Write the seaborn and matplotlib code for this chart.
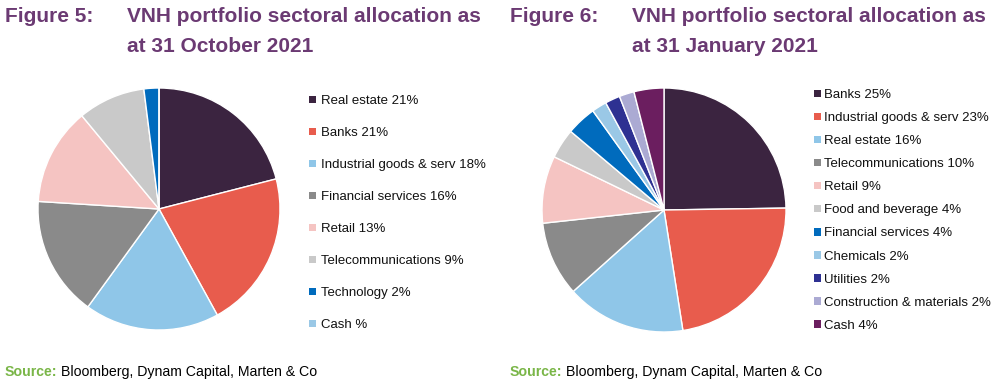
""" VNH portfolio sectoral allocation pies """

import matplotlib
matplotlib.use("Agg")
import matplotlib.pyplot as plt
from matplotlib.patches import Patch
import seaborn as sns

oct_labels = ["Real estate 21%", "Banks 21%", "Industrial goods & serv 18%",
              "Financial services 16%", "Retail 13%", "Telecommunications 9%",
              "Technology 2%", "Cash %"]
oct_values = [21, 21, 18, 16, 13, 9, 2, 0]
oct_colors = ["#3b2440", "#e85c4d", "#8fc6e8", "#8a8a8a", "#f5c4c2",
              "#c9c9c9", "#006bbd", "#9ac8e6"]

jan_labels = ["Banks 25%", "Industrial goods & serv 23%", "Real estate 16%",
              "Telecommunications 10%", "Retail 9%", "Food and beverage 4%",
              "Financial services 4%", "Chemicals 2%", "Utilities 2%",
              "Construction & materials 2%", "Cash 4%"]
jan_values = [25, 23, 16, 10, 9, 4, 4, 2, 2, 2, 4]
jan_colors = ["#3b2440", "#e85c4d", "#8fc6e8", "#8a8a8a", "#f5c4c2",
              "#c9c9c9", "#006bbd", "#9ac8e6", "#2e3192", "#abaad3", "#6b1e5f"]

TITLE_COLOR = "#6b3a73"
SOURCE_COLOR = "#7ab648"


def draw_pie(fig, rect, values, colors, labels, legend_xy, spacing, pad):
    """ Draw one pie with its legend """
    ax = fig.add_axes(rect)
    ax.pie(values, colors=colors, startangle=90, counterclock=False,
           wedgeprops=dict(edgecolor="white", linewidth=1))
    ax.set_xlim(-1, 1)
    ax.set_ylim(-1, 1)
    ax.set_axis_off()
    handles = [Patch(facecolor=c, edgecolor="none") for c in colors]
    fig.legend(handles, labels, loc="upper left", bbox_to_anchor=legend_xy,
               frameon=False, fontsize=9.5, handlelength=0.5, handleheight=0.5,
               handletextpad=pad, labelspacing=spacing, borderpad=0,
               borderaxespad=0, labelcolor="#111111")


def main():
    sns.set_theme(style="white")
    plt.rcParams["font.family"] = ["Liberation Sans", "DejaVu Sans"]
    fig = plt.figure(figsize=(10, 3.89), dpi=100)

    draw_pie(fig, [0.038, 1 - 330 / 389, 0.242, 242 / 389],
             oct_values, oct_colors, oct_labels, (0.309, 1 - 95 / 389),
             1.52, 0.4)
    draw_pie(fig, [0.542, 1 - 332 / 389, 0.244, 244 / 389],
             jan_values, jan_colors, jan_labels, (0.814, 1 - 89 / 389),
             0.84, 0.25)

    title_kw = dict(fontsize=15, fontweight="bold", color=TITLE_COLOR,
                    va="center")
    for x0, fig_no, date in [(0.005, "Figure 5:", "at 31 October 2021"),
                             (0.510, "Figure 6:", "at 31 January 2021")]:
        fig.text(x0, 1 - 17 / 389, fig_no, **title_kw)
        fig.text(x0 + 0.122, 1 - 17 / 389,
                 "VNH portfolio sectoral allocation as", **title_kw)
        fig.text(x0 + 0.122, 1 - 46 / 389, date, **title_kw)

        src = fig.text(x0, 1 - 372 / 389, "Source:", fontsize=10.2,
                       fontweight="bold", color=SOURCE_COLOR, va="center")
        fig.canvas.draw()
        bbox = src.get_window_extent()
        fig.text(bbox.x1 / 1000 + 0.003, 1 - 372 / 389,
                 "Bloomberg, Dynam Capital, Marten & Co", fontsize=10.2,
                 color="black", va="center")

    fig.savefig("out.png", dpi=100)


if __name__ == "__main__":
    main()
